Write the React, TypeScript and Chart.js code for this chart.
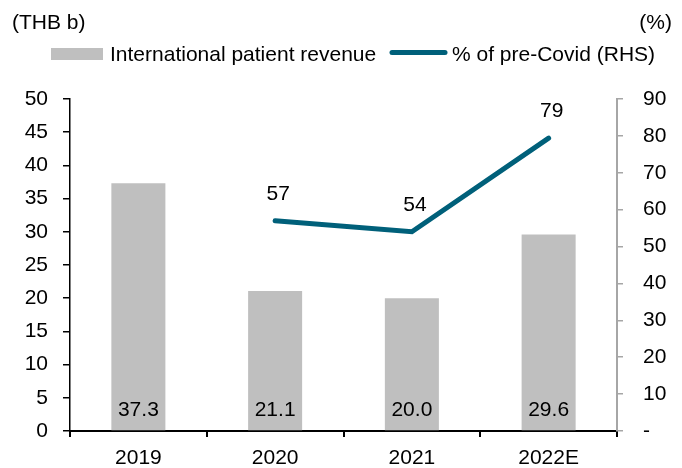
import React, { useEffect, useRef } from "react";
import { Chart, registerables } from "chart.js";

Chart.register(...registerables);

const categories = ["2019", "2020", "2021", "2022E"];
const revenueValues = [37.3, 21.1, 20.0, 29.6];
const preCovidPct: (number | null)[] = [null, 57, 54, 79.4];
const leftTicks = { min: 0, max: 50, step: 5 };
const rightTicks = { min: 0, max: 90, step: 10 };
const leftUnit = "(THB b)";
const rightUnit = "(%)";
const barLabel = "International patient revenue";
const lineLabel = "% of pre-Covid (RHS)";

const FONT = "'Liberation Sans', Arial, sans-serif";
const BAR_COLOR = "#bfbfbf";
const LINE_COLOR = "#00607a";

const labelsPlugin = {
  id: "customLabels",
  afterDatasetsDraw(chart: any) {
    const ctx = chart.ctx;
    ctx.save();
    ctx.fillStyle = "#000";
    ctx.font = `21px ${FONT}`;
    ctx.textBaseline = "alphabetic";
    // axis unit titles
    ctx.textAlign = "left";
    ctx.fillText(leftUnit, 12, 29);
    ctx.textAlign = "right";
    ctx.fillText(rightUnit, 672, 29);
    // legend
    ctx.fillStyle = BAR_COLOR;
    ctx.fillRect(51, 48, 52, 12);
    ctx.fillStyle = "#000";
    ctx.textAlign = "left";
    ctx.fillText(barLabel, 110, 61);
    ctx.strokeStyle = LINE_COLOR;
    ctx.lineWidth = 5;
    ctx.lineCap = "round";
    ctx.beginPath();
    ctx.moveTo(392, 52.5);
    ctx.lineTo(445, 52.5);
    ctx.stroke();
    ctx.fillText(lineLabel, 452, 61);
    // bar value labels
    const yScale = chart.scales.y;
    const base = yScale.getPixelForValue(0);
    ctx.textAlign = "center";
    const barMeta = chart.getDatasetMeta(0);
    barMeta.data.forEach((el: any, i: number) => {
      ctx.fillText(revenueValues[i].toFixed(1), el.x, base - 15);
    });
    // line value labels
    const lineMeta = chart.getDatasetMeta(1);
    lineMeta.data.forEach((el: any, i: number) => {
      const v = preCovidPct[i];
      if (v === null || v === undefined) return;
      ctx.fillText(String(Math.round(v)), el.x + 3, el.y - 21);
    });
    ctx.restore();
  },
};

export default function App() {
  const ref = useRef<HTMLCanvasElement | null>(null);
  useEffect(() => {
    if (!ref.current) return;
    Chart.defaults.font.family = FONT;
    const chart = new Chart(ref.current, {
      type: "bar",
      data: {
        labels: categories,
        datasets: [
          {
            type: "bar",
            label: barLabel,
            data: revenueValues,
            backgroundColor: BAR_COLOR,
            borderWidth: 0,
            categoryPercentage: 1,
            barPercentage: 0.395,
            yAxisID: "y",
            order: 2,
          },
          {
            type: "line",
            label: lineLabel,
            data: preCovidPct,
            borderColor: LINE_COLOR,
            backgroundColor: LINE_COLOR,
            borderWidth: 5,
            borderCapStyle: "round",
            pointRadius: 0,
            pointHoverRadius: 0,
            tension: 0,
            yAxisID: "y2",
            order: 1,
          },
        ],
      } as any,
      options: {
        responsive: false,
        animation: false,
        events: [],
        layout: { padding: { top: 99, left: 0, right: 0, bottom: 0 } },
        plugins: {
          legend: { display: false },
          tooltip: { enabled: false },
          title: { display: false },
        },
        scales: {
          x: {
            type: "category",
            offset: true,
            grid: {
              offset: true,
              drawOnChartArea: false,
              drawTicks: true,
              tickLength: 6,
              color: "#000",
              lineWidth: 2,
            },
            border: { color: "#000", width: 2 },
            ticks: {
              color: "#000",
              font: { size: 21, family: FONT },
              padding: 9,
              maxRotation: 0,
              autoSkip: false,
            },
            afterFit: (s: any) => {
              s.height = 37;
            },
          },
          y: {
            position: "left",
            min: leftTicks.min,
            max: leftTicks.max,
            ticks: {
              stepSize: leftTicks.step,
              color: "#000",
              font: { size: 21, family: FONT },
              padding: 15,
            },
            grid: {
              drawOnChartArea: false,
              drawTicks: true,
              tickLength: 7,
              color: "#000",
              lineWidth: 1.5,
            },
            border: { color: "#000", width: 1.5 },
            afterFit: (s: any) => {
              s.width = 70;
            },
          },
          y2: {
            position: "right",
            min: rightTicks.min,
            max: rightTicks.max,
            ticks: {
              stepSize: rightTicks.step,
              color: "#000",
              font: { size: 21, family: FONT },
              padding: 20,
              callback: (v: any) => (Number(v) === 0 ? "-" : String(v)),
            },
            grid: {
              drawOnChartArea: false,
              drawTicks: true,
              tickLength: 6,
              color: "#a6a6a6",
              lineWidth: 1.5,
            },
            border: { color: "#a6a6a6", width: 2 },
            afterFit: (s: any) => {
              s.width = 65;
            },
          },
        },
      } as any,
      plugins: [labelsPlugin],
    });
    return () => chart.destroy();
  }, []);
  return (
    <div style={{ position: "fixed", left: 0, top: 0, width: 682, height: 468, background: "#fff" }}>
      <canvas ref={ref} width={682} height={468} style={{ display: "block" }} />
    </div>
  );
}
